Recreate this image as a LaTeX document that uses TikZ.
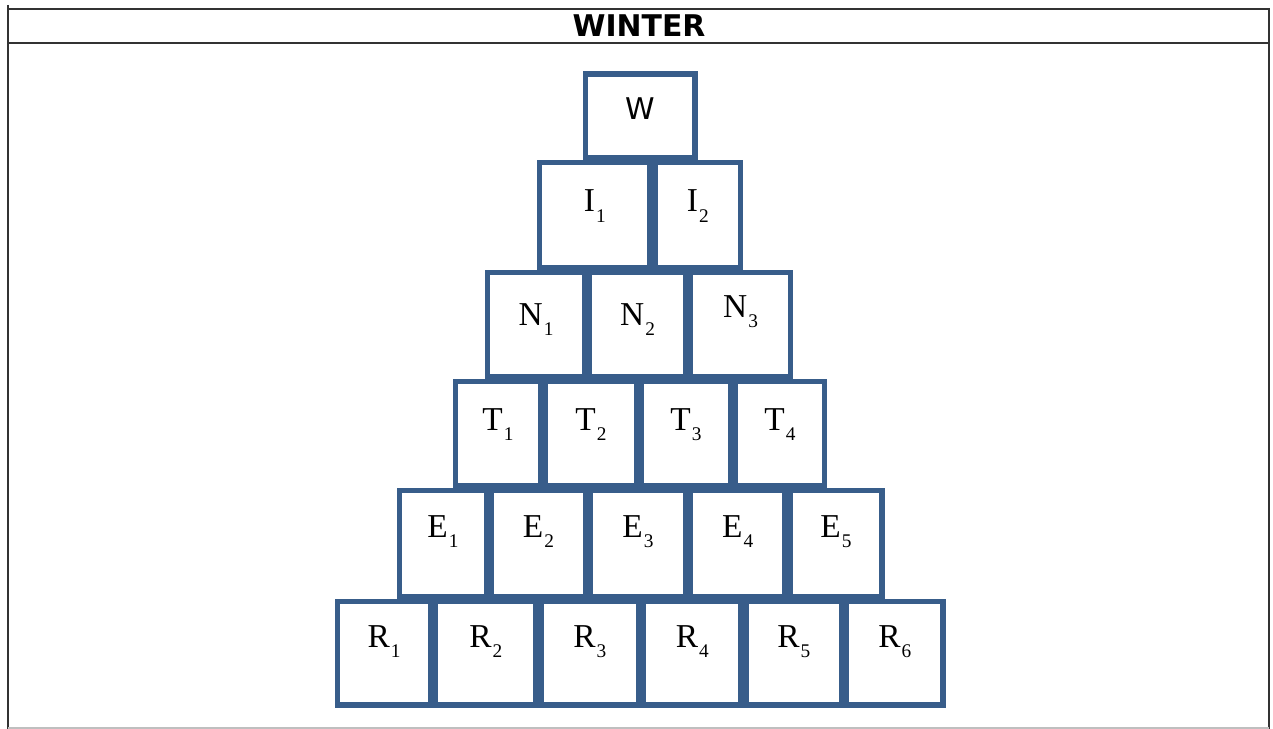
\documentclass[tikz,border=0pt]{standalone}
\usepackage{fontspec}
\setmainfont{Liberation Serif}
\newfontfamily\headfont{DejaVu Sans}
\usetikzlibrary{fit}
\definecolor{boxblue}{HTML}{385D8A}
\newcommand{\lsub}[1]{\kern0.6pt\raisebox{-5.9pt}{\fontsize{11}{11}\selectfont #1}}

\begin{document}
\begin{tikzpicture}[x=0.02cm, y=-0.02cm,
    block/.style={draw=boxblue, line width=3.3pt, inner sep=0pt},
    lbl/.style={anchor=base, inner sep=0pt, font=\fontsize{19}{19}\selectfont},
    frame/.style={draw=black!80, line width=1.3pt}]
    \useasboundingbox (0,0) rectangle (1273,729);

    % Frame and header
    \draw[frame] (8,5) -- (8,729);
    \draw[frame] (1269,8) -- (1269,729);
    \draw[frame] (8,9) -- (1269,9);
    \draw[frame] (8,43) -- (1269,43);
    \draw[black!25, line width=0.8pt] (8,728) -- (1269,728);
    \node[anchor=base, inner sep=0pt, font=\headfont\bfseries\fontsize{17}{17}\selectfont] (title) at (639,37) {WINTER};

    % Row W
    \node[block, fit={(585.5,74) (695,157.5)}] (W) {};
    \node[anchor=base, inner sep=0pt, font=\headfont\fontsize{17}{17}\selectfont] (W-txt) at (640,120) {W};

    % Row I
    \foreach \n/\l/\r in {1/537/652.5, 2/652.5/743}{
        \node[block, fit={(\l+2.5,162.5) (\r-2.5,267.5)}] (I\n) {};
        \node[lbl] (I\n-txt) at ({(\l+\r)/2},212) {I\lsub{\n}};
    }

    % Row N
    \foreach \n/\l/\r/\b in {1/485/587/325, 2/587/688/325, 3/688/793/317}{
        \node[block, fit={(\l+2.5,272.5) (\r-2.5,376.5)}] (N\n) {};
        \node[lbl] (N\n-txt) at ({(\l+\r)/2},\b) {N\lsub{\n}};
    }

    % Row T
    \foreach \n/\l/\r in {1/453/543, 2/543/639, 3/639/733, 4/733/827}{
        \node[block, fit={(\l+2.5,381.5) (\r-2.5,485.5)}] (T\n) {};
        \node[lbl] (T\n-txt) at ({(\l+\r)/2},430) {T\lsub{\n}};
    }

    % Row E
    \foreach \n/\l/\r in {1/397/489, 2/489/588, 3/588/688, 4/688/787.5, 5/787.5/884.5}{
        \node[block, fit={(\l+2.5,490.5) (\r-2.5,596.5)}] (E\n) {};
        \node[lbl] (E\n-txt) at ({(\l+\r)/2},537) {E\lsub{\n}};
    }

    % Row R
    \foreach \n/\l/\r in {1/335/433, 2/433/538.5, 3/538.5/641, 4/641/743.5, 5/743.5/844, 6/844/945.5}{
        \node[block, fit={(\l+2.5,601.5) (\r-2.5,705)}] (R\n) {};
        \node[lbl] (R\n-txt) at ({(\l+\r)/2},647) {R\lsub{\n}};
    }
\end{tikzpicture}
\end{document}
